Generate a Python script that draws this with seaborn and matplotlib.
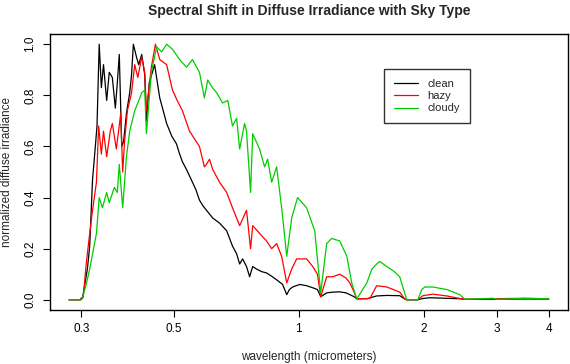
import matplotlib
matplotlib.use("Agg")
import matplotlib.pyplot as plt
import seaborn as sns
import pandas as pd

# ---- data ----
clean_wl = [0.28, 0.297, 0.302, 0.310, 0.314, 0.319, 0.324, 0.327, 0.331, 0.335, 0.339, 0.345,
            0.350, 0.356, 0.362, 0.366, 0.370, 0.375, 0.379, 0.385, 0.392, 0.396, 0.400, 0.407,
            0.412, 0.419, 0.426, 0.430, 0.437, 0.450, 0.463, 0.472, 0.481, 0.495, 0.508, 0.517,
            0.525, 0.537, 0.555, 0.566, 0.577, 0.587, 0.600, 0.621, 0.645, 0.671, 0.682, 0.693,
            0.709, 0.721, 0.733, 0.749, 0.762, 0.775, 0.792, 0.815, 0.837, 0.865, 0.890, 0.915,
            0.936, 0.950, 0.967, 1.006, 1.045, 1.081, 1.110, 1.130, 1.168, 1.210, 1.256, 1.300,
            1.328, 1.360, 1.380, 1.459, 1.541, 1.630, 1.751, 1.801, 1.821, 1.935, 1.990, 2.069,
            2.250, 2.443, 2.512, 2.934, 3.5, 4.0]
clean_val = [0.0, 0.0, 0.01, 0.12, 0.21, 0.47, 0.60, 0.68, 1.00, 0.83, 0.92, 0.78,
             0.89, 0.87, 0.75, 0.85, 0.96, 0.60, 0.62, 0.73, 0.81, 0.88, 1.00, 0.95,
             0.92, 0.96, 0.88, 0.70, 0.85, 0.92, 0.79, 0.74, 0.69, 0.64, 0.61, 0.57,
             0.54, 0.51, 0.46, 0.43, 0.39, 0.37, 0.35, 0.32, 0.30, 0.27, 0.24, 0.21,
             0.18, 0.14, 0.16, 0.13, 0.09, 0.13, 0.12, 0.11, 0.105, 0.09, 0.075, 0.06,
             0.02, 0.04, 0.05, 0.06, 0.055, 0.047, 0.04, 0.012, 0.027, 0.03, 0.031, 0.027,
             0.02, 0.012, 0.004, 0.004, 0.015, 0.017, 0.016, 0.003, 0.0, 0.0, 0.005, 0.008,
             0.006, 0.004, 0.002, 0.002, 0.003, 0.003]

hazy_wl = [0.28, 0.299, 0.303, 0.308, 0.313, 0.319, 0.326, 0.330, 0.335, 0.339, 0.345, 0.352,
           0.356, 0.364, 0.373, 0.377, 0.381, 0.387, 0.396, 0.403, 0.410, 0.419, 0.426, 0.430,
           0.442, 0.452, 0.463, 0.481, 0.497, 0.510, 0.525, 0.546, 0.577, 0.593, 0.600, 0.610,
           0.621, 0.645, 0.671, 0.693, 0.721, 0.749, 0.766, 0.775, 0.805, 0.837, 0.861, 0.885,
           0.910, 0.936, 0.962, 0.989, 1.045, 1.081, 1.110, 1.130, 1.168, 1.208, 1.256, 1.300,
           1.328, 1.360, 1.380, 1.483, 1.541, 1.630, 1.751, 1.801, 1.821, 1.935, 1.990, 2.103,
           2.273, 2.443, 2.512, 2.934, 3.5, 4.0]
hazy_val = [0.0, 0.0, 0.01, 0.14, 0.24, 0.35, 0.46, 0.68, 0.57, 0.66, 0.56, 0.66,
            0.69, 0.59, 0.73, 0.50, 0.62, 0.74, 0.81, 0.92, 0.87, 0.95, 0.89, 0.74,
            0.91, 1.00, 0.94, 0.92, 0.82, 0.78, 0.74, 0.66, 0.60, 0.52, 0.53, 0.55,
            0.51, 0.46, 0.42, 0.36, 0.29, 0.35, 0.20, 0.29, 0.26, 0.23, 0.20, 0.22,
            0.17, 0.066, 0.12, 0.16, 0.16, 0.13, 0.10, 0.012, 0.09, 0.09, 0.10, 0.085,
            0.066, 0.03, 0.004, 0.005, 0.055, 0.05, 0.03, 0.003, 0.0, 0.0, 0.016, 0.022,
            0.015, 0.005, 0.002, 0.004, 0.006, 0.004]

cloudy_wl = [0.28, 0.300, 0.302, 0.308, 0.314, 0.320, 0.326, 0.331, 0.337, 0.345, 0.350, 0.360,
             0.366, 0.370, 0.377, 0.385, 0.392, 0.403, 0.410, 0.419, 0.426, 0.430, 0.442, 0.455,
             0.468, 0.481, 0.497, 0.517, 0.537, 0.555, 0.577, 0.593, 0.604, 0.620, 0.635, 0.656,
             0.675, 0.693, 0.709, 0.721, 0.741, 0.749, 0.766, 0.775, 0.805, 0.828, 0.842, 0.861,
             0.885, 0.910, 0.936, 0.962, 0.994, 1.045, 1.093, 1.130, 1.168, 1.201, 1.256, 1.306,
             1.342, 1.380, 1.459, 1.500, 1.541, 1.567, 1.630, 1.700, 1.751, 1.781, 1.821, 1.935,
             1.979, 2.012, 2.046, 2.103, 2.273, 2.443, 2.512, 2.934, 3.0, 3.5, 4.0]
cloudy_val = [0.0, 0.0, 0.01, 0.06, 0.12, 0.19, 0.26, 0.40, 0.36, 0.42, 0.38, 0.44,
              0.42, 0.53, 0.36, 0.56, 0.66, 0.74, 0.77, 0.81, 0.82, 0.65, 0.89, 0.99,
              0.97, 1.00, 0.98, 0.94, 0.91, 0.94, 0.89, 0.79, 0.86, 0.83, 0.81, 0.77,
              0.78, 0.68, 0.71, 0.59, 0.69, 0.66, 0.42, 0.65, 0.59, 0.52, 0.55, 0.46,
              0.52, 0.36, 0.17, 0.32, 0.40, 0.36, 0.27, 0.027, 0.22, 0.24, 0.23, 0.17,
              0.066, 0.003, 0.066, 0.12, 0.14, 0.15, 0.13, 0.11, 0.09, 0.05, 0.0, 0.0,
              0.04, 0.05, 0.05, 0.05, 0.04, 0.02, 0.002, 0.006, 0.002, 0.005, 0.004]

series_names = ["clean", "hazy", "cloudy"]
series_colors = ["black", "#FF0000", "#00CD00"]
x_ticks = [0.3, 0.5, 1, 2, 3, 4]
x_tick_labels = ["0.3", "0.5", "1", "2", "3", "4"]
y_ticks = [0.0, 0.2, 0.4, 0.6, 0.8, 1.0]
y_tick_labels = ["0.0", "0.2", "0.4", "0.6", "0.8", "1.0"]

frames = []
for name, wl, val in zip(series_names, [clean_wl, hazy_wl, cloudy_wl],
                         [clean_val, hazy_val, cloudy_val]):
    frames.append(pd.DataFrame({"wavelength": wl, "value": val, "sky": name}))
df = pd.concat(frames, ignore_index=True)

sns.set_style("white")
plt.rcParams["font.family"] = ["Liberation Sans", "DejaVu Sans"]

W, H = 570, 364
fig = plt.figure(figsize=(W / 100, H / 100), dpi=100)
ax = fig.add_axes([50 / W, (H - 310) / H, 518 / W, 276 / H])

sns.lineplot(data=df, x="wavelength", y="value", hue="sky", hue_order=series_names,
             palette=dict(zip(series_names, series_colors)), estimator=None, sort=False,
             linewidth=0.9, ax=ax)

ax.set_xscale("log")
ax.set_xlim(0.252, 4.45)
ax.set_ylim(-0.04, 1.04)
ax.set_xticks(x_ticks)
ax.set_xticklabels(x_tick_labels)
ax.minorticks_off()
ax.set_yticks(y_ticks)
ax.set_yticklabels(y_tick_labels, rotation=90, va="center")
ax.tick_params(axis="both", direction="out", length=5, width=0.8, color="black",
               labelsize=8.5, labelcolor="black", bottom=True, left=True, top=False, right=False)
ax.tick_params(axis="x", pad=4)
ax.tick_params(axis="y", pad=5)
for s in ax.spines.values():
    s.set_visible(True)
    s.set_color("black")
    s.set_linewidth(1.0)

ax.set_xlabel("wavelength (micrometers)", fontsize=8.5, labelpad=12)
ax.set_ylabel("normalized diffuse irradiance", fontsize=8.5, labelpad=8)
fig.text((50 + 568) / 2 / W, 1 - 11 / H, "Spectral Shift in Diffuse Irradiance with Sky Type",
         ha="center", va="center", fontsize=10, fontweight="bold")

leg = ax.legend(loc="upper left", bbox_to_anchor=((384 - 50) / 518, (310 - 69) / 276),
                borderaxespad=0, frameon=True, fancybox=False, fontsize=8,
                handlelength=2.2, handletextpad=0.8, borderpad=0.9, labelspacing=0.2)
leg.get_frame().set_edgecolor("black")
leg.get_frame().set_linewidth(1.0)
leg.set_title(None)

fig.savefig("out.png", dpi=100)
